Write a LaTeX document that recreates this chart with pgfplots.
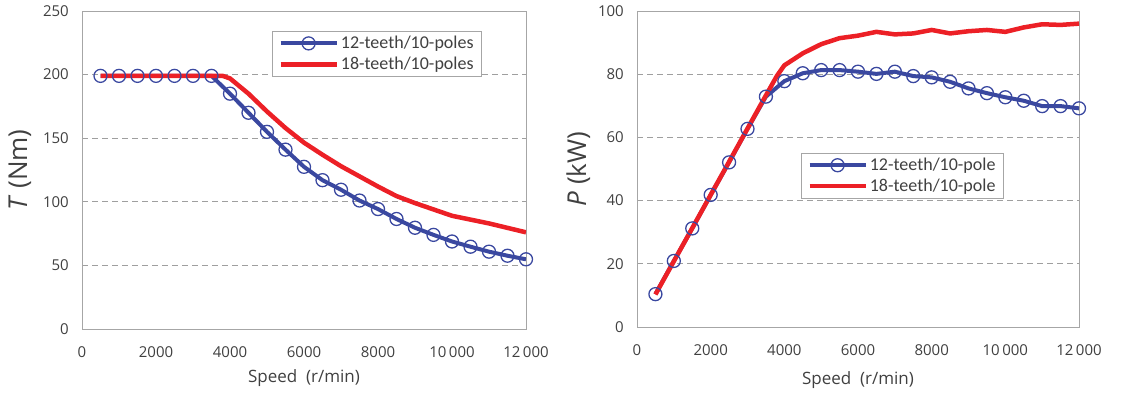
\documentclass[border=0pt]{standalone}
\usepackage{pgfplots}
\pgfplotsset{compat=1.18}
\usepackage{fontspec}
\setmainfont{Open Sans}
\newfontfamily\legfont{Carlito}
\definecolor{cblue}{RGB}{58,72,160}
\definecolor{cred}{RGB}{236,32,38}
\definecolor{ctext}{RGB}{64,64,64}
\definecolor{cframe}{RGB}{166,166,166}

\pgfplotstableread{
x y
500 199
1000 199
1500 199
2000 199
2500 199
3000 199
3500 199
4000 185
4500 170
5000 155
5500 141
6000 127.5
6500 117
7000 109.5
7500 101
8000 94.3
8500 86.5
9000 79.6
9500 74
10000 68.8
10500 64.7
11000 60.8
11500 57.6
12000 54.8
}\torqueA
\pgfplotstableread{
x y
500 199
1000 199
1500 199
2000 199
2500 199
3000 199
3500 199
3800 199
4000 197
4500 185
5000 171
5500 158
6000 146.5
6500 137
7000 128
7500 120
8000 112
8500 104.5
9000 99
9500 94
10000 89
10500 86
11000 83
11500 79.5
12000 76
}\torqueB
\pgfplotstableread{
x y
500 10.4
1000 20.9
1500 31.2
2000 41.8
2500 52.1
3000 62.7
3500 72.9
4000 77.8
4500 80.3
5000 81.3
5500 81.3
6000 80.8
6500 80.1
7000 80.8
7500 79.4
8000 79
8500 77.6
9000 75.5
9500 74
10000 72.7
10500 71.6
11000 69.9
11500 69.9
12000 69.2
}\powerA
\pgfplotstableread{
x y
500 10.3
1000 20.8
1500 31.3
2000 41.8
2500 52.3
3000 62.8
3500 73.3
3800 79.5
4000 82.8
4500 86.6
5000 89.5
5500 91.4
6000 92.2
6500 93.4
7000 92.6
7500 92.9
8000 94.0
8500 92.9
9000 93.6
9500 94
10000 93.4
10500 94.8
11000 95.8
11500 95.6
12000 96
}\powerB

\pgfplotsset{
  common/.style={
    scale only axis,
    anchor=south west,
    xmin=0, xmax=12000,
    axis line style={cframe, line width=0.9pt},
    major tick length=0pt,
    scaled x ticks=false,
    xtick={0,2000,4000,6000,8000,10000,12000},
    xticklabels={0,2000,4000,6000,8000,10\,000,12\,000},
    ymajorgrids,
    major grid style={dashed, gray!75, line width=0.8pt, dash pattern=on 6pt off 4pt},
    tick label style={font=\fontsize{15}{17}\selectfont, text=ctext},
    /pgf/number format/assume math mode=true,
    yticklabel style={inner sep=0pt, anchor=east, xshift=-13pt},
    xticklabel style={inner sep=0pt, anchor=north, yshift=-17pt},
    label style={text=ctext},
    xlabel={Speed\ \ (r/min)},
    xlabel style={font=\fontsize{17}{20}\selectfont, anchor=center},
    ylabel style={font=\fontsize{26}{30}\selectfont, anchor=center, rotate=0},
    legend cell align=left,
    legend style={draw=cframe, line width=0.7pt, font=\legfont\fontsize{18}{20}\selectfont, text=ctext, anchor=north west, inner xsep=6pt, inner ysep=3pt, row sep=3pt},
    legend image code/.code={\draw[mark repeat=2,mark phase=2] plot coordinates {(0pt,0pt) (28pt,0pt) (56pt,0pt)};},
  },
  bser/.style={cblue, line width=4pt, mark=o, mark size=6.5pt, mark options={line width=1.3pt, solid, fill=none}},
  rser/.style={cred, line width=4.5pt, no marks},
}

\begin{document}
\begin{tikzpicture}
\useasboundingbox (0pt,0pt) rectangle (1121pt,397pt);
\begin{axis}[common,
  at={(82pt,68pt)}, width=444pt, height=318pt,
  ymin=0, ymax=250, ytick={0,50,...,250},
  ylabel={\textit{T}\ (Nm)},
  ylabel style={at={(axis description cs:-0.14,0.5)}},
  xlabel style={at={(axis description cs:0.5,-0.155)}},
  legend style={at={(0.428,0.937)}},
]
\addplot[bser] table[x=x,y=y] {\torqueA};
\addlegendentry{12-teeth/10-poles}
\addplot[rser] table[x=x,y=y] {\torqueB};
\addlegendentry{18-teeth/10-poles}
\end{axis}
\begin{axis}[common,
  at={(637pt,70pt)}, width=442pt, height=316pt,
  ymin=0, ymax=100, ytick={0,20,...,100},
  ylabel={\textit{P}\ (kW)},
  ylabel style={at={(axis description cs:-0.133,0.5)}},
  xlabel style={at={(axis description cs:0.5,-0.168)}},
  legend style={at={(0.371,0.551)}},
]
\addplot[bser] table[x=x,y=y] {\powerA};
\addlegendentry{12-teeth/10-pole}
\addplot[rser] table[x=x,y=y] {\powerB};
\addlegendentry{18-teeth/10-pole}
\end{axis}
\end{tikzpicture}
\end{document}
